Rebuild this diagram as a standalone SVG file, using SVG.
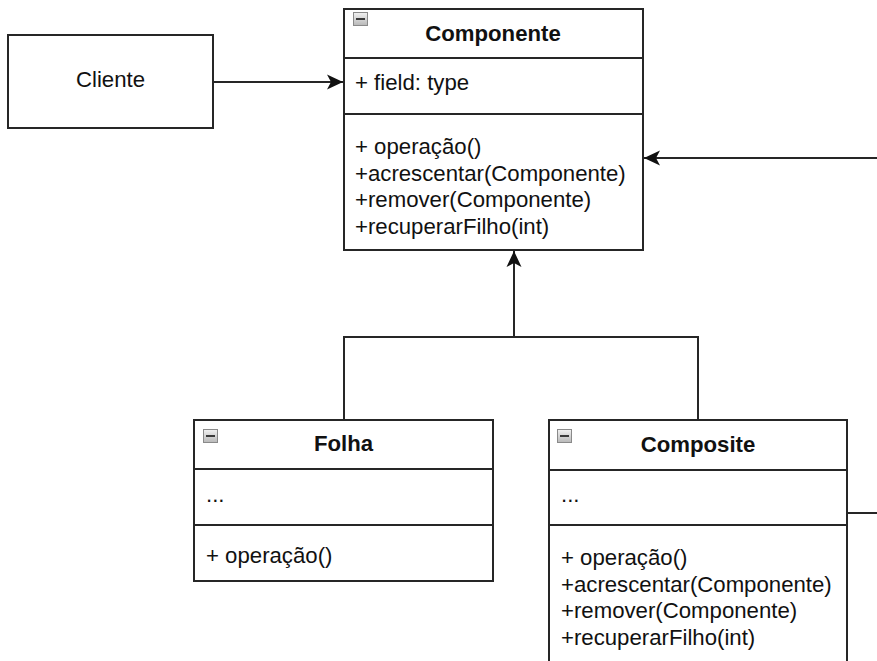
<svg xmlns="http://www.w3.org/2000/svg" width="877" height="661" viewBox="0 0 877 661">
  <style>
    .box { fill: #ffffff; stroke: #262626; stroke-width: 2; }
    .sep { stroke: #262626; stroke-width: 2; fill: none; }
    .edge { stroke: #262626; stroke-width: 2; fill: none; }
    text { font-family: "Liberation Sans", Arial, sans-serif; font-size: 22.2px; fill: #111111; }
    .title { font-weight: bold; text-anchor: middle; }
    .mid { text-anchor: middle; }
    .icon { fill: url(#iconFill); stroke: #8a8a8a; stroke-width: 1; }
    .iconBar { stroke: #3a3a3a; stroke-width: 2; }
  </style>
  <defs>
    <linearGradient id="iconFill" x1="0" y1="0" x2="0" y2="1">
      <stop offset="0" stop-color="#f2f2f2"/>
      <stop offset="1" stop-color="#b8b8b8"/>
    </linearGradient>
    <marker id="arrow" markerUnits="userSpaceOnUse" markerWidth="18" markerHeight="18" viewBox="0 0 18 18" refX="17" refY="9" orient="auto">
      <path d="M1,1.5 L17,9 L1,16.5 L5,9 Z" fill="#111111"/>
    </marker>
    <g id="collapse">
      <rect class="icon" x="0.5" y="0.5" width="14" height="13"/>
      <line class="iconBar" x1="3" y1="7" x2="12" y2="7"/>
    </g>
  </defs>

  <!-- connectors -->
  <g id="connectors">
    <path class="edge" d="M213,82 L343,82" marker-end="url(#arrow)"/>
    <path class="edge" d="M847,513 H900 V158 H644" marker-end="url(#arrow)"/>
    <path class="edge" d="M344,420 V337 H698 V420"/>
    <path class="edge" d="M514,337 V251" marker-end="url(#arrow)"/>
  </g>

  <!-- client -->
  <g id="cliente">
    <rect class="box" x="8" y="35" width="205" height="93"/>
    <text class="mid" x="110.5" y="87">Cliente</text>
  </g>

  <!-- abstract component -->
  <g id="componente">
    <rect class="box" x="344" y="9" width="299" height="241"/>
    <line class="sep" x1="344" y1="58" x2="643" y2="58"/>
    <line class="sep" x1="344" y1="114" x2="643" y2="114"/>
    <use href="#collapse" x="353" y="12"/>
    <text class="title" x="493" y="41">Componente</text>
    <text x="355" y="90">+ field: type</text>
    <text x="355" y="154">+ operação()</text>
    <text x="355" y="180.5">+acrescentar(Componente)</text>
    <text x="355" y="207">+remover(Componente)</text>
    <text x="355" y="233.5">+recuperarFilho(int)</text>
  </g>

  <!-- leaf -->
  <g id="folha">
    <rect class="box" x="194" y="420" width="299" height="161"/>
    <line class="sep" x1="194" y1="469" x2="493" y2="469"/>
    <line class="sep" x1="194" y1="525" x2="493" y2="525"/>
    <use href="#collapse" x="203" y="429"/>
    <text class="title" x="343.5" y="451">Folha</text>
    <text x="206" y="502">...</text>
    <text x="206" y="563">+ operação()</text>
  </g>

  <!-- composite -->
  <g id="composite">
    <rect class="box" x="549" y="420" width="298" height="260"/>
    <line class="sep" x1="549" y1="470" x2="847" y2="470"/>
    <line class="sep" x1="549" y1="525" x2="847" y2="525"/>
    <use href="#collapse" x="557" y="429"/>
    <text class="title" x="698" y="452">Composite</text>
    <text x="561" y="502">...</text>
    <text x="561" y="565">+ operação()</text>
    <text x="561" y="591.5">+acrescentar(Componente)</text>
    <text x="561" y="618">+remover(Componente)</text>
    <text x="561" y="644.5">+recuperarFilho(int)</text>
  </g>
</svg>
